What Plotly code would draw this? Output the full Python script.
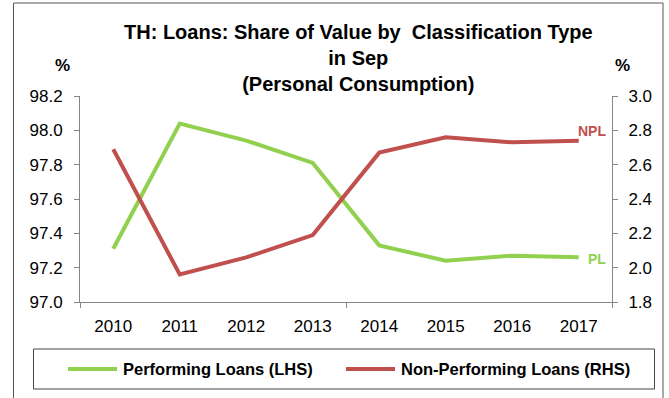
import plotly.graph_objects as go

# Share of loan value by classification type (September of each year)
years = [2010, 2011, 2012, 2013, 2014, 2015, 2016, 2017]
performing = [97.31, 98.04, 97.94, 97.81, 97.33, 97.24, 97.27, 97.26]
non_performing = [2.69, 1.96, 2.06, 2.19, 2.67, 2.76, 2.73, 2.74]

GREEN = "#92D050"
RED = "#C0504D"
AXIS = "#868686"
FONT = "Liberation Sans, Arial, sans-serif"

W, H = 669, 398
L, R, T, B = 80, 57, 96, 96
PW, PH = W - L - R, H - T - B


def px(x):
    return (x - L) / PW


def py(y):
    return (H - B - y) / PH


fig = go.Figure()
fig.add_trace(go.Scatter(x=years, y=performing, mode="lines", name="Performing Loans (LHS)",
                         line=dict(color=GREEN, width=4), yaxis="y", showlegend=False))
fig.add_trace(go.Scatter(x=years, y=non_performing, mode="lines", name="Non-Performing Loans (RHS)",
                         line=dict(color=RED, width=4), yaxis="y2", showlegend=False))

tickfont = dict(family=FONT, size=17, color="#000")
fig.update_layout(
    width=W, height=H, margin=dict(l=L, r=R, t=T, b=B),
    paper_bgcolor="white", plot_bgcolor="white",
    xaxis=dict(range=[2009.5, 2017.5], tickmode="array", tickvals=years,
               ticktext=[str(y) for y in years], ticks="", showgrid=False, zeroline=False,
               showline=True, linecolor=AXIS, linewidth=1, tickfont=tickfont,
               ticklabelstandoff=9,
               minor=dict(tickmode="array", tickvals=[2009.5, 2013.5, 2017.5], ticks="outside",
                          ticklen=5, tickcolor=AXIS, showgrid=False)),
    yaxis=dict(range=[97.0, 98.2], dtick=0.2, tickformat=".1f", ticks="outside", ticklen=5,
               tickcolor=AXIS, showline=True, linecolor=AXIS, showgrid=False, zeroline=False,
               tickfont=tickfont, ticklabelstandoff=8),
    yaxis2=dict(range=[1.8, 3.0], dtick=0.2, tickformat=".1f", ticks="outside", ticklen=5,
                tickcolor=AXIS, showline=True, linecolor=AXIS, showgrid=False, zeroline=False,
                tickfont=tickfont, overlaying="y", side="right", ticklabelstandoff=7),
)

bold = lambda size, color="#000": dict(family=FONT, size=size, color=color, weight="bold")

ann = [
    dict(text="TH: Loans: Share of Value by \u00a0Classification Type<br>in Sep<br>(Personal Consumption)",
         x=px(358), y=py(19), xanchor="center", yanchor="top", font=bold(20)),
    dict(text="%", x=px(62), y=py(65), xanchor="center", yanchor="middle", font=bold(17)),
    dict(text="%", x=px(622), y=py(65), xanchor="center", yanchor="middle", font=bold(17)),
    dict(text="Performing Loans (LHS)", x=px(121), y=py(369), xanchor="left", yanchor="middle", font=bold(16.5)),
    dict(text="Non-Performing Loans (RHS)", x=px(399), y=py(369), xanchor="left", yanchor="middle", font=bold(16.5)),
]
for a in ann:
    a.update(xref="paper", yref="paper", showarrow=False)
fig.update_layout(annotations=ann)

# End-of-line series labels
fig.add_annotation(x=years[-1], y=non_performing[-1], xref="x", yref="y2", text="NPL",
                   showarrow=False, xanchor="center", yanchor="middle", xshift=13, yshift=10,
                   font=bold(14, RED))
fig.add_annotation(x=years[-1], y=performing[-1], xref="x", yref="y", text="PL",
                   showarrow=False, xanchor="left", yanchor="middle", xshift=7, yshift=-2,
                   font=bold(14, GREEN))

shapes = [
    # outer chart frame
    dict(type="rect", x0=px(13.5), x1=px(663), y0=py(3), y1=py(405), line=dict(color="#555", width=1)),
    # legend frame
    dict(type="rect", x0=px(33.5), x1=px(654.5), y0=py(349), y1=py(389), line=dict(color="#444", width=1)),
    # legend keys
    dict(type="line", x0=px(68), x1=px(117), y0=py(369), y1=py(369), line=dict(color=GREEN, width=4)),
    dict(type="line", x0=px(346), x1=px(395), y0=py(369), y1=py(369), line=dict(color=RED, width=4)),
]
for s in shapes:
    s.update(xref="paper", yref="paper", layer="above")
fig.update_layout(shapes=shapes)

fig.write_html("out.html")
